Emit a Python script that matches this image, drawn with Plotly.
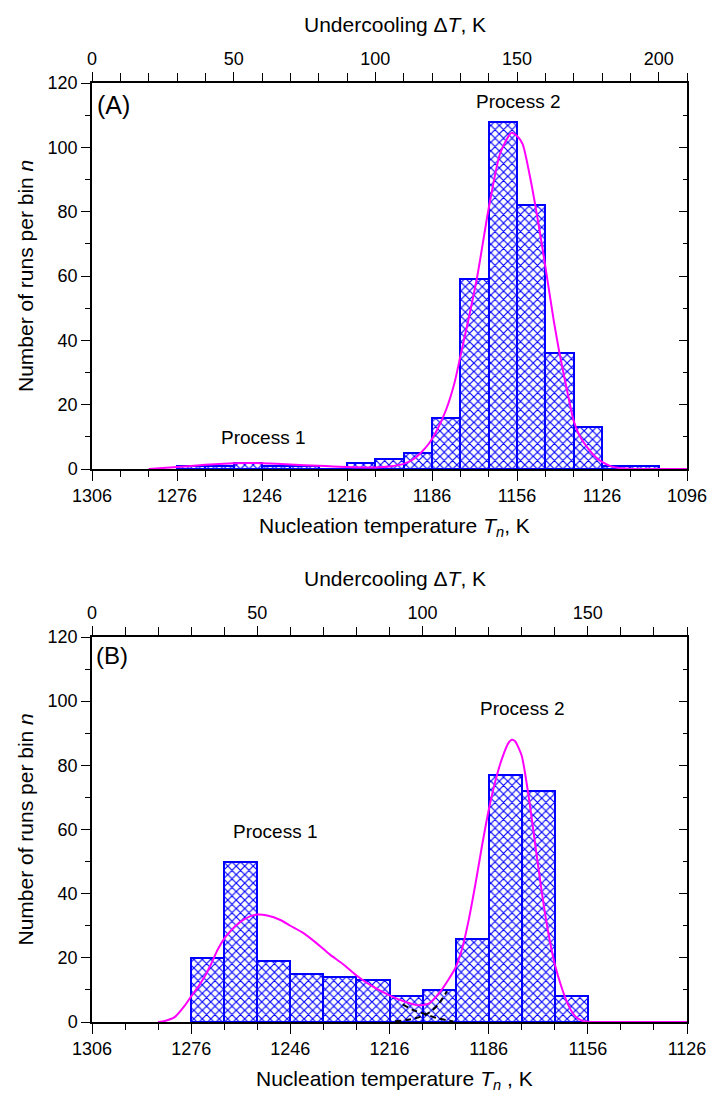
import plotly.graph_objects as go

# ---------------- data ----------------
# Panel A histogram: bin centres (nucleation temperature, K) and counts
a_T = [1271, 1261, 1251, 1241, 1231, 1221, 1211, 1201, 1191, 1181, 1171, 1161, 1151, 1141, 1131, 1121, 1111]
a_n = [1, 1, 2, 1, 1, 0, 2, 3, 5, 16, 59, 108, 82, 36, 13, 1, 1]

# Panel A fitted curve (undercooling, K -> runs per bin)
a_fit_dT = [20, 30, 40, 50, 55, 60, 70, 80, 90, 100, 105, 110, 113, 116, 119, 122, 125, 128, 130, 133,
            136, 140, 144, 148, 150, 152, 155, 158, 160, 163, 165, 168, 170, 172, 175, 178, 180, 183,
            186, 190, 200, 210]
a_fit_n = [0, 0.6, 1.3, 1.8, 1.9, 1.8, 1.4, 1.0, 0.6, 0.5, 0.8, 1.6, 2.8, 5, 8, 12.5, 18.5, 27, 35, 47,
           60, 81, 98, 104.5, 103.5, 101, 89, 74, 63, 46, 36, 23, 15, 10.5, 6.5, 3.5, 2.2, 0.9,
           0.3, 0.1, 0, 0]

# Panel B histogram
b_T = [1271, 1261, 1251, 1241, 1231, 1221, 1211, 1201, 1191, 1181, 1171, 1161]
b_n = [20, 50, 19, 15, 14, 13, 8, 10, 26, 77, 72, 8]

# Panel B fitted curve (sum)
b_fit_dT = [20, 22, 25, 28, 30, 32, 34, 36, 38, 40, 42, 44, 46, 48, 50, 53, 57, 60, 64, 68, 72, 76, 80,
            85, 90, 95, 99, 102, 105, 108, 110, 112, 114, 116, 118, 120, 122, 124, 126, 127, 128, 130,
            132, 134, 136, 138, 140, 142, 144, 146, 148, 150, 160, 170, 180]
b_fit_n = [0, 0.3, 1.5, 5, 8, 10.8, 14, 18, 22.5, 26, 28.5, 30.5, 32, 33, 33.5, 33.2, 31.8, 30, 27.7, 24.5,
           21, 18, 14.5, 11, 8.3, 6.2, 5.2, 5.8, 9, 13.5, 17, 23, 32, 43, 55, 66, 75, 82, 87, 88, 87.5,
           83, 71, 56, 41, 28, 18, 11, 5.5, 2, 0.5, 0.1, 0, 0, 0]

# Panel B component tails (dashed)
b_c1_dT = [94, 97, 100.5, 104, 109.3]
b_c1_n = [5.5, 3.8, 2.6, 1.3, 0.2]
b_c2_dT = [91.7, 95, 98, 101, 103, 105, 107.4]
b_c2_n = [0.2, 0.6, 1.2, 2.3, 3.7, 5.8, 9.6]

# Tick label text
a_xticks = [1306, 1276, 1246, 1216, 1186, 1156, 1126, 1096]
b_xticks = [1306, 1276, 1246, 1216, 1186, 1156, 1126]

# ---------------- styles ----------------
FONT = "Arial, Liberation Sans, sans-serif"
BLUE = "#0000FF"
MAG = "#FF00FF"
W, H = 710, 1095
L, R, T, B = 92, 687, 83, 1022
TICK_FS = 18
TITLE_FS = 21
LABEL_FS = 19


def px(xp):
    return (xp - L) / (R - L)


def py(yp):
    return (B - yp) / (B - T)


fig = go.Figure()


def bars(x, y, xa, ya):
    fig.add_trace(go.Bar(
        x=x, y=y, width=10, xaxis=xa, yaxis=ya,
        marker=dict(color="white", line=dict(color=BLUE, width=2),
                    pattern=dict(shape="x", fgcolor=BLUE, bgcolor="white", size=6, solidity=0.35)),
        showlegend=False, hoverinfo="skip"))


def curve(x, y, xa, ya, color=MAG, width=2, dash="solid"):
    fig.add_trace(go.Scatter(
        x=x, y=y, xaxis=xa, yaxis=ya, mode="lines",
        line=dict(color=color, width=width, dash=dash, shape="spline", smoothing=0.6),
        showlegend=False, hoverinfo="skip", cliponaxis=True))


bars(a_T, a_n, "x", "y")
curve(a_fit_dT, a_fit_n, "x2", "y")
bars(b_T, b_n, "x3", "y3")
curve(b_c1_dT, b_c1_n, "x4", "y3", color="black", width=2, dash="6px,4px")
curve(b_c2_dT, b_c2_n, "x4", "y3", color="black", width=2, dash="6px,4px")
curve(b_fit_dT, b_fit_n, "x4", "y3")

ax_common = dict(showline=True, linecolor="black", linewidth=1.5, showgrid=False, zeroline=False,
                 automargin=False, tickcolor="black", tickwidth=1.2,
                 tickfont=dict(family=FONT, size=TICK_FS, color="black"))

dom_a = [py(469), 1]
dom_b = [0, py(637)]


def xbottom(rng, ticks, anchor):
    return dict(**ax_common, domain=[0, 1], anchor=anchor, range=rng, autorange=False,
                tickmode="array", tickvals=ticks, ticktext=[str(t) for t in ticks],
                ticks="outside", ticklen=10,
                minor=dict(tickmode="linear", tick0=1306, dtick=10, ticks="outside", ticklen=6,
                           tickcolor="black", tickwidth=1.2, showgrid=False))


def xtop(rng, overlay, anchor):
    return dict(**ax_common, overlaying=overlay, side="top", anchor=anchor, range=rng, autorange=False,
                tickmode="linear", tick0=0, dtick=50, ticks="outside", ticklen=9,
                minor=dict(tickmode="linear", tick0=0, dtick=10, ticks="outside", ticklen=8,
                           tickcolor="black", tickwidth=1.2, showgrid=False))


def yleft(dom, anchor):
    return dict(**ax_common, domain=dom, anchor=anchor, range=[0, 120], autorange=False,
                tickmode="linear", tick0=0, dtick=20, ticks="outside", ticklen=9,
                minor=dict(tickmode="linear", tick0=0, dtick=10, ticks="outside", ticklen=5,
                           tickcolor="black", tickwidth=1.2, showgrid=False))


def yright(overlay, anchor):
    return dict(**ax_common, overlaying=overlay, side="right", anchor=anchor, range=[0, 120],
                autorange=False, tickmode="linear", tick0=0, dtick=20, ticks="inside", ticklen=8,
                showticklabels=False,
                minor=dict(tickmode="linear", tick0=0, dtick=10, ticks="inside", ticklen=4,
                           tickcolor="black", tickwidth=1.2, showgrid=False))


fig.update_layout(
    template="none",
    width=W, height=H, margin=dict(l=L, r=W - R, t=T, b=H - B),
    paper_bgcolor="white", plot_bgcolor="white", bargap=0, barmode="overlay",
    font=dict(family=FONT, size=TICK_FS, color="black"),
    xaxis=xbottom([1306, 1096], a_xticks, "y"),
    xaxis2=xtop([0, 210], "x", "y"),
    yaxis=yleft(dom_a, "x"),
    yaxis2=yright("y", "x"),
    xaxis3=xbottom([1306, 1126], b_xticks, "y3"),
    xaxis4=xtop([0, 180], "x3", "y3"),
    yaxis3=yleft(dom_b, "x3"),
    yaxis4=yright("y3", "x3"),
)
# invisible traces so the right-hand frame axes render
fig.add_trace(go.Scatter(x=[1306], y=[0], xaxis="x", yaxis="y2", mode="markers",
                         marker=dict(opacity=0), showlegend=False, hoverinfo="skip"))
fig.add_trace(go.Scatter(x=[1306], y=[0], xaxis="x3", yaxis="y4", mode="markers",
                         marker=dict(opacity=0), showlegend=False, hoverinfo="skip"))

ann = []


def text(x, y, s, xref, yref, size=LABEL_FS, angle=0):
    ann.append(dict(x=x, y=y, xref=xref, yref=yref, text=s, showarrow=False, textangle=angle,
                    font=dict(family=FONT, size=size, color="black"), xanchor="center", yanchor="middle"))


# in-plot labels
text(7.5, 113.2, "(A)", "x2", "y", size=25)
text(150.4, 114.2, "Process 2", "x2", "y")
text(60.2, 9.9, "Process 1", "x2", "y")
text(5.9, 114.2, "(B)", "x4", "y3", size=24)
text(130, 97.6, "Process 2", "x4", "y3")
text(55.4, 59.4, "Process 1", "x4", "y3")

# axis titles
cx = px((L + R) / 2 + 5)
text(cx, py(24), "Undercooling \u0394<i>T</i>, K", "paper", "paper", size=TITLE_FS)
text(cx, py(527), "Nucleation temperature <i>T</i><sub><i>n</i></sub>, K", "paper", "paper", size=TITLE_FS)
text(cx, py(578), "Undercooling \u0394<i>T</i>, K", "paper", "paper", size=TITLE_FS)
text(cx, py(1080), "Nucleation temperature <i>T</i><sub><i>n</i></sub> , K", "paper", "paper", size=TITLE_FS)
text(px(25), py((T + 469) / 2), "Number of runs per bin <i>n</i>", "paper", "paper", size=TITLE_FS, angle=-90)
text(px(25), py((637 + B) / 2), "Number of runs per bin <i>n</i>", "paper", "paper", size=TITLE_FS, angle=-90)

fig.update_layout(annotations=ann)
fig.write_html("out.html")
